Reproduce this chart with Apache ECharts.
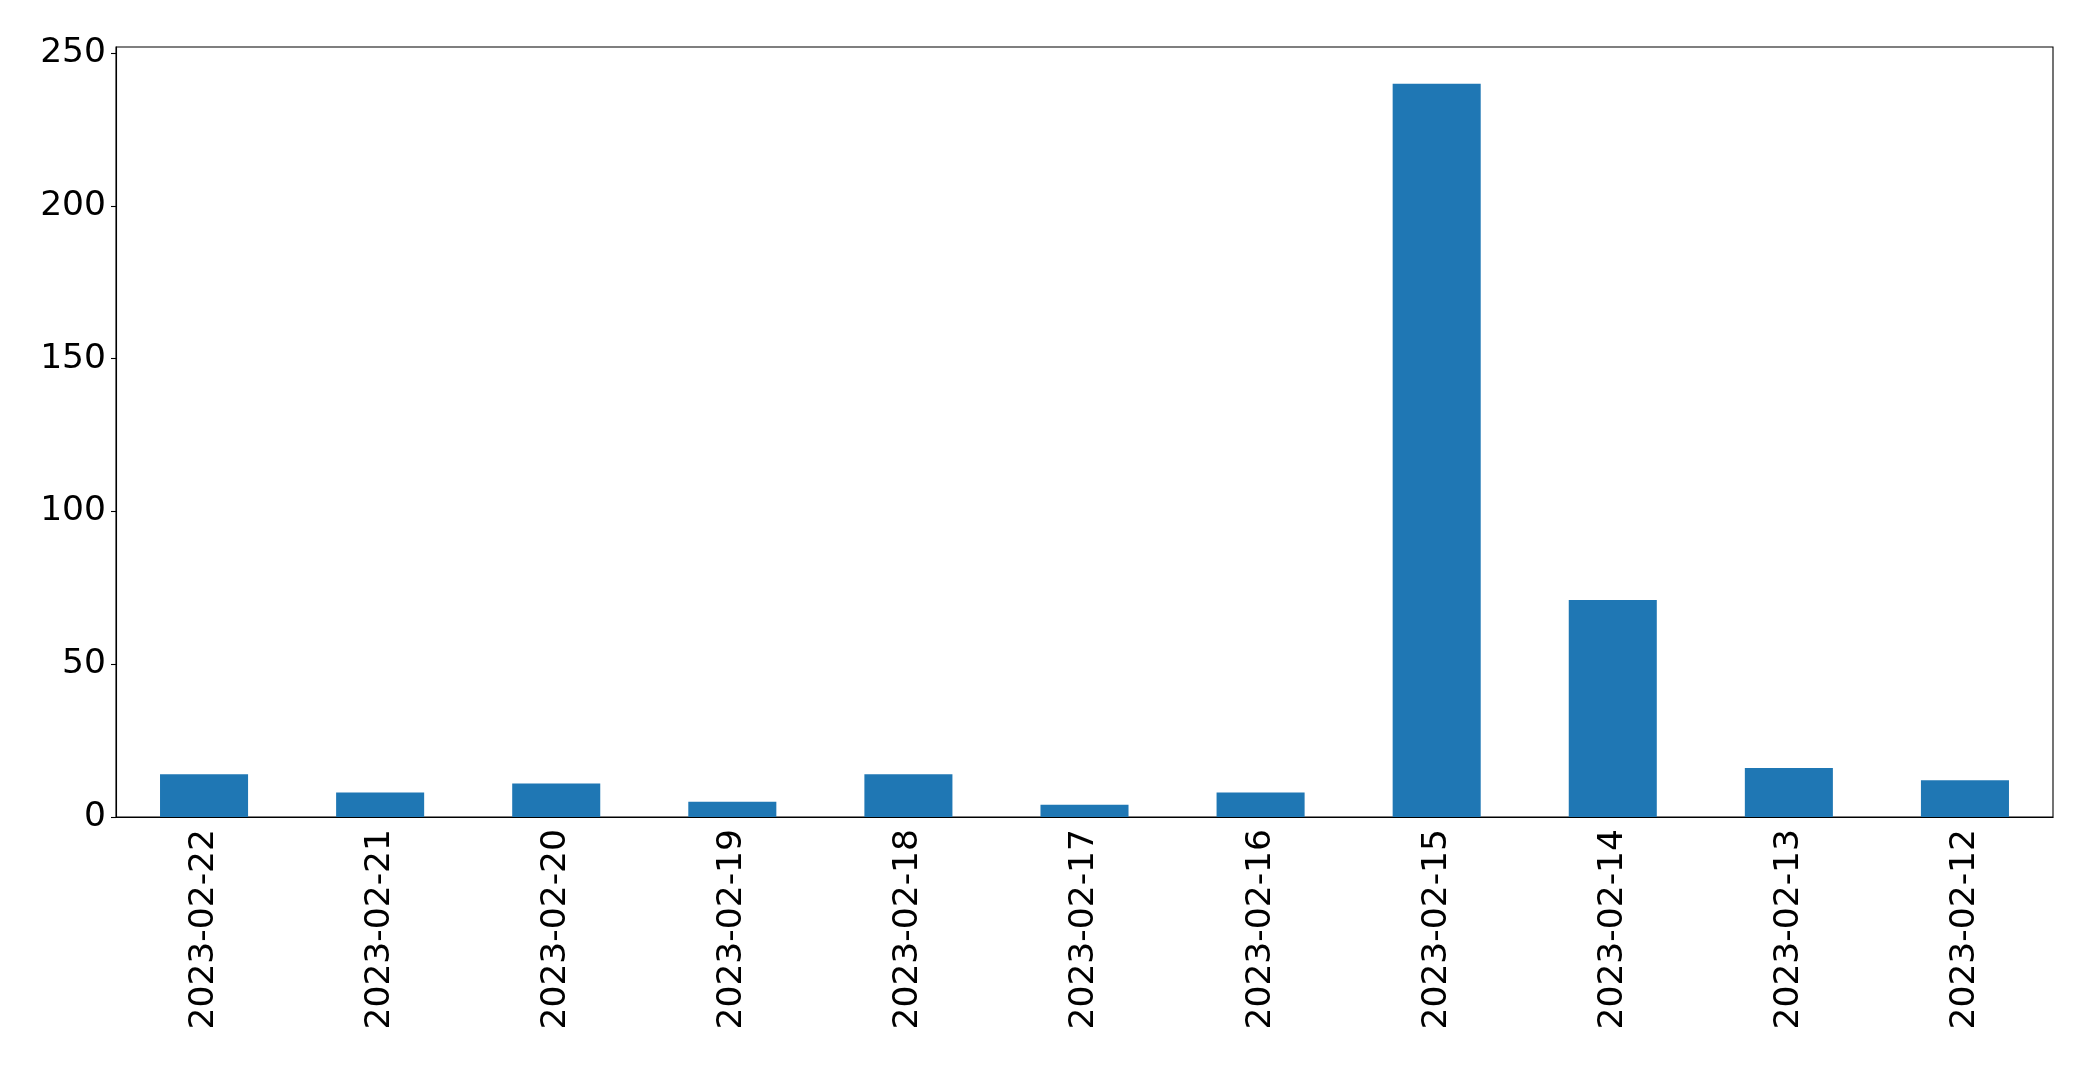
<!DOCTYPE html>
<html>
<head>
<meta charset="utf-8">
<script src="https://cdn.jsdelivr.net/npm/echarts@6/dist/echarts.min.js"></script>
<style>
html,body{margin:0;padding:0;background:#fff;}
#chart{width:2093px;height:1069px;}
</style>
</head>
<body>
<div id="chart"></div>
<script>
const categories = ["2023-02-22","2023-02-21","2023-02-20","2023-02-19","2023-02-18","2023-02-17","2023-02-16","2023-02-15","2023-02-14","2023-02-13","2023-02-12"];
const values = [14, 8, 11, 5, 14, 4, 8, 240, 71, 16, 12];
const yTicks = [0, 50, 100, 150, 200, 250];

const chart = echarts.init(document.getElementById('chart'), null, {renderer: 'canvas'});
const font = {fontFamily: 'DejaVu Sans', fontSize: 34.5, color: '#000'};
chart.setOption({
  animation: false,
  backgroundColor: '#fff',
  grid: {left: 116, right: 40, top: 47, bottom: 252, show: true, borderColor: '#000', borderWidth: 1.1, backgroundColor: 'transparent'},
  xAxis: {
    type: 'category',
    data: categories,
    boundaryGap: true,
    axisLine: {lineStyle: {color: '#000', width: 1.1}},
    axisTick: {alignWithLabel: true, length: 5, lineStyle: {color: '#000', width: 1.1}},
    axisLabel: Object.assign({rotate: 90, margin: 12, interval: 0}, font),
    splitLine: {show: false}
  },
  yAxis: {
    type: 'value',
    min: 0,
    max: 252,
    interval: 50,
    axisLine: {show: true, lineStyle: {color: '#000', width: 1.1}},
    axisTick: {show: true, length: 5, customValues: yTicks, lineStyle: {color: '#000', width: 1.1}},
    axisLabel: Object.assign({margin: 10, customValues: yTicks}, font),
    splitLine: {show: false}
  },
  series: [{
    type: 'bar',
    data: values,
    barWidth: '50%',
    itemStyle: {color: '#1f77b4'}
  }]
});
</script>
</body>
</html>
